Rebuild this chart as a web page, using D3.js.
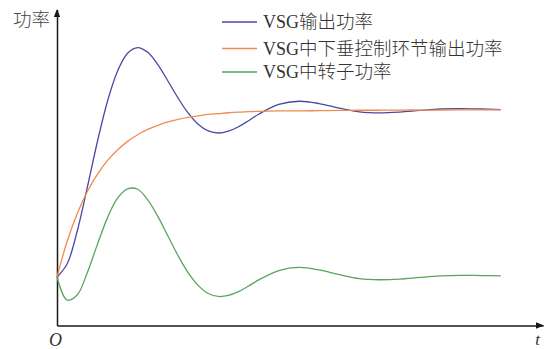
<!DOCTYPE html>
<html>
<head>
<meta charset="utf-8">
<script src="https://cdn.jsdelivr.net/npm/d3@7/dist/d3.min.js"></script>
<style>
  html, body { margin: 0; padding: 0; background: #fff; }
  svg { display: block; }
</style>
</head>
<body>
<svg id="chart" width="546" height="349"></svg>
<script>
// Time samples (arbitrary units)
const time = [0, 0.05, 0.10, 0.15, 0.20, 0.25, 0.30, 0.35, 0.40, 0.45, 0.50, 0.55, 0.60,
  0.65, 0.70, 0.75, 0.80, 0.85, 0.90, 0.95, 1.00, 1.1, 1.2, 1.3, 1.4, 1.5, 1.6, 1.7,
  1.8, 1.9, 2.0, 2.1, 2.2];

// VSG output power
const vsgOutput = [0.200, 0.262, 0.419, 0.628, 0.846, 1.040, 1.185, 1.271, 1.298, 1.275,
  1.216, 1.138, 1.057, 0.985, 0.931, 0.899, 0.889, 0.898, 0.919, 0.948, 0.979, 1.026,
  1.041, 1.030, 1.008, 0.990, 0.985, 0.989, 0.997, 1.004, 1.006, 1.004, 1.001];

// Droop-control stage output power
const droopOutput = [0.200, 0.370, 0.503, 0.608, 0.691, 0.757, 0.808, 0.849, 0.881, 0.906,
  0.926, 0.942, 0.954, 0.964, 0.971, 0.978, 0.982, 0.986, 0.989, 0.991, 0.993, 0.995,
  0.995, 0.996, 0.997, 0.998, 0.998, 0.999, 0.999, 0.999, 1.000, 1.000, 1.000];

// Rotor power
const rotorPower = [0.200, 0.090, 0.114, 0.220, 0.355, 0.483, 0.577, 0.622, 0.620, 0.569,
  0.490, 0.396, 0.303, 0.221, 0.160, 0.121, 0.107, 0.112, 0.130, 0.157, 0.186, 0.231,
  0.246, 0.234, 0.211, 0.192, 0.187, 0.190, 0.198, 0.205, 0.208, 0.207, 0.205];

const seriesNames = ["VSG输出功率", "VSG中下垂控制环节输出功率", "VSG中转子功率"];
const seriesColors = ["#4a48a6", "#f28a50", "#5aa45e"];
const yLabel = "功率";
const xLabel = "t";
const originLabel = "O";

const svg = d3.select("#chart");

const x = d3.scaleLinear().domain([0, 2.41]).range([57, 543]);
const y = d3.scaleLinear().domain([-0.032, 1.48]).range([325.5, 9.5]);

const axisColor = "#1a1a1a";

// Axes (domain lines only, no ticks)
const gx = svg.append("g").attr("transform", `translate(0,${y(-0.032)})`)
  .call(d3.axisBottom(x).ticks(0).tickSizeOuter(0));
const gy = svg.append("g").attr("transform", `translate(${x(0)},0)`)
  .call(d3.axisLeft(y).ticks(0).tickSizeOuter(0));
[gx, gy].forEach(g => g.select(".domain").attr("stroke", axisColor).attr("stroke-width", 1.5));

// Arrowheads
const xEnd = x.range()[1], yTop = y.range()[1], x0 = x(0), y0 = y.range()[0];
svg.append("path")
  .attr("d", `M${xEnd + 1},${y0} L${xEnd - 7},${y0 - 3.2} L${xEnd - 7},${y0 + 3.2} Z`)
  .attr("fill", axisColor);
svg.append("path")
  .attr("d", `M${x0},${yTop - 0.5} L${x0 - 3.2},${yTop + 7.5} L${x0 + 3.2},${yTop + 7.5} Z`)
  .attr("fill", axisColor);

// Curves
const line = d3.line()
  .x((d, i) => x(time[i]))
  .y(d => y(d))
  .curve(d3.curveCatmullRom.alpha(0.5));

[vsgOutput, droopOutput, rotorPower].forEach((vals, k) => {
  svg.append("path")
    .datum(vals)
    .attr("d", line)
    .attr("fill", "none")
    .attr("stroke", seriesColors[k])
    .attr("stroke-width", 1.3);
});

// Axis labels
const cjk = "'Noto Sans CJK SC', 'Noto Sans CJK JP', sans-serif";
const serif = "'Liberation Serif', 'DejaVu Serif', serif";
svg.append("text")
  .attr("x", 13).attr("y", 26)
  .attr("font-family", cjk).attr("font-size", 18.5)
  .attr("font-weight", 300)
  .attr("fill", "#444")
  .text(yLabel);
svg.append("text")
  .attr("x", 55.5).attr("y", 346)
  .attr("text-anchor", "middle")
  .attr("font-family", serif).attr("font-style", "italic").attr("font-size", 18)
  .attr("fill", "#333")
  .text(originLabel);
svg.append("text")
  .attr("x", 537.5).attr("y", 345)
  .attr("text-anchor", "middle")
  .attr("font-family", serif).attr("font-style", "italic").attr("font-size", 17)
  .attr("fill", "#333")
  .text(xLabel);

// Legend
const legendRows = [22, 48.5, 72];
const legend = svg.append("g");
seriesNames.forEach((name, k) => {
  const ry = legendRows[k];
  legend.append("line")
    .attr("x1", 222).attr("x2", 257)
    .attr("y1", ry).attr("y2", ry)
    .attr("stroke", seriesColors[k]).attr("stroke-width", 1.3);
  const t = legend.append("text")
    .attr("x", 263).attr("y", ry + 6.3)
    .attr("fill", "#333");
  const latin = name.match(/^[A-Za-z]+/)[0];
  t.append("tspan")
    .attr("font-family", serif).attr("font-size", 18)
    .text(latin);
  t.append("tspan")
    .attr("font-family", cjk).attr("font-size", 18.5).attr("font-weight", 300)
    .text(name.slice(latin.length));
});
</script>
</body>
</html>
